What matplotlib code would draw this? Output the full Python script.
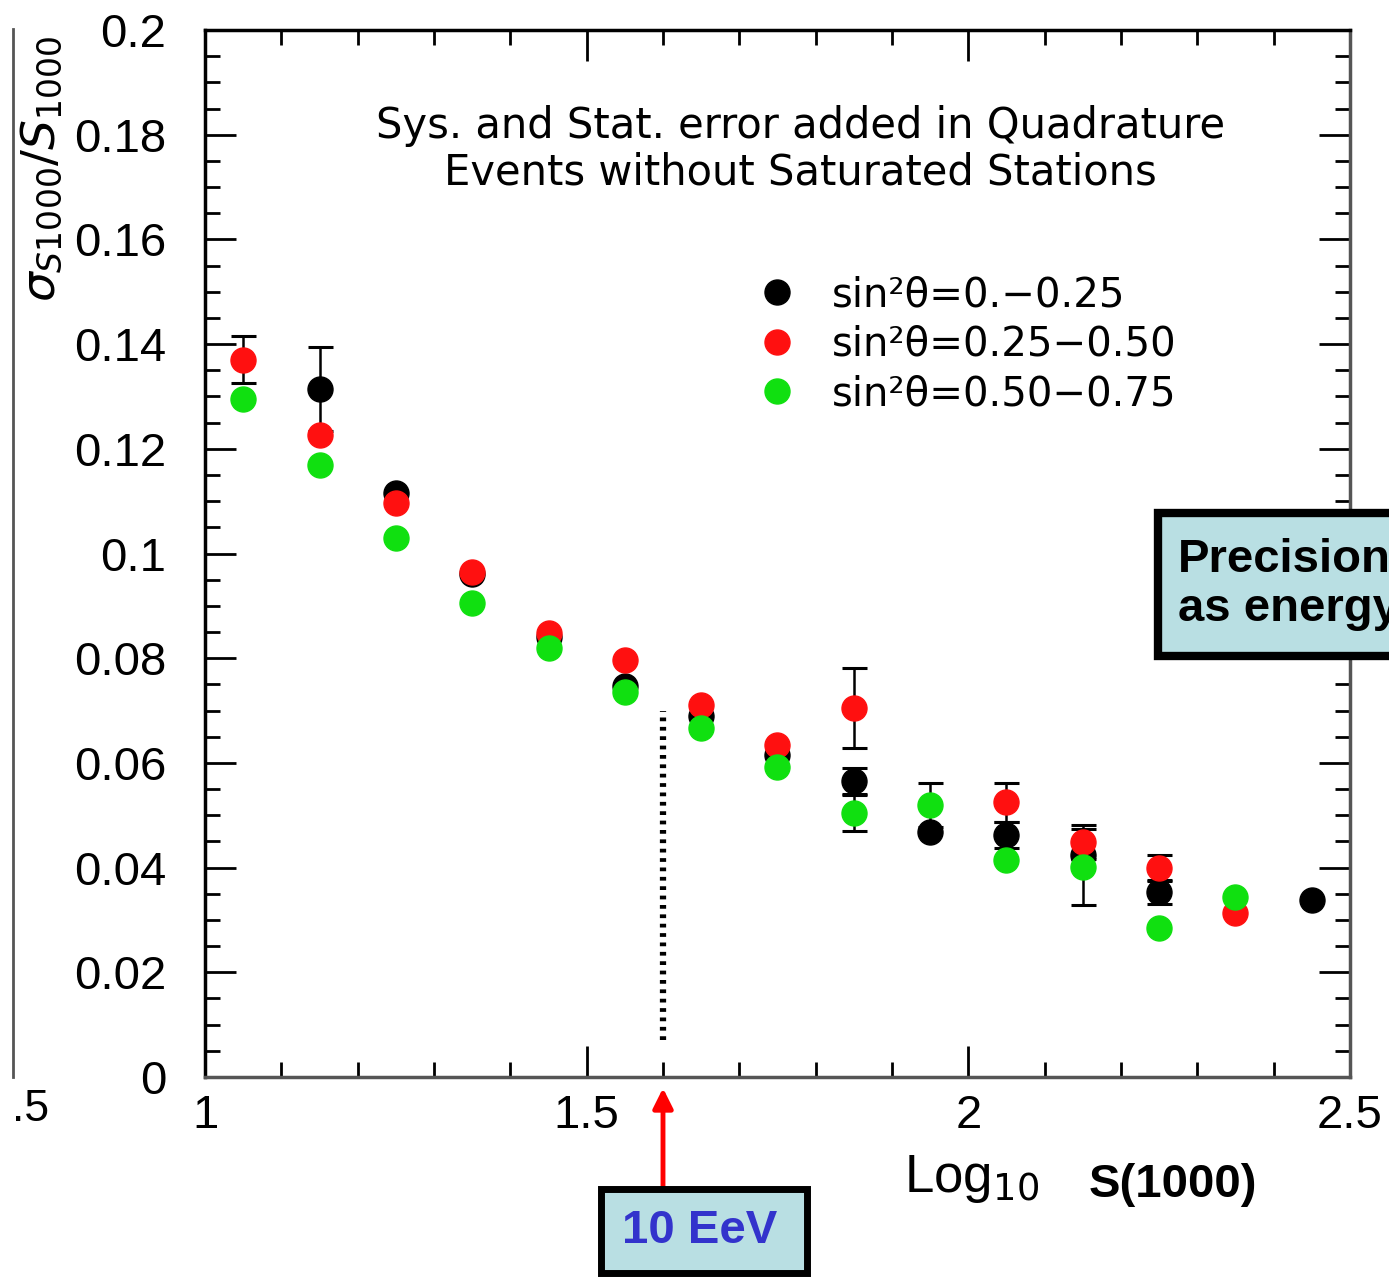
import numpy as np
import matplotlib.pyplot as plt
from matplotlib.patches import Rectangle
from matplotlib.lines import Line2D
from matplotlib.ticker import MultipleLocator

# sigma(S1000)/S1000 vs log10 S(1000), three zenith bins
x_black = [1.15, 1.25, 1.35, 1.45, 1.55, 1.65, 1.75, 1.85, 1.95, 2.05, 2.15, 2.25, 2.45]
y_black = [0.1314, 0.1116, 0.0961, 0.0840, 0.0747, 0.0690, 0.0615, 0.0565, 0.0468, 0.0462, 0.0425, 0.0353, 0.0338]
e_black = [0.0080, 0, 0, 0, 0, 0, 0, 0.0025, 0, 0.0025, 0, 0.0023, 0]

x_red = [1.05, 1.15, 1.25, 1.35, 1.45, 1.55, 1.65, 1.75, 1.85, 2.05, 2.15, 2.25, 2.35]
y_red = [0.1370, 0.1226, 0.1096, 0.0965, 0.0848, 0.0797, 0.0711, 0.0634, 0.0705, 0.0525, 0.0449, 0.0399, 0.0313]
e_red = [0.0045, 0, 0, 0, 0, 0, 0, 0, 0.0077, 0.0037, 0.0032, 0.0025, 0]

x_green = [1.05, 1.15, 1.25, 1.35, 1.45, 1.55, 1.65, 1.75, 1.85, 1.95, 2.05, 2.15, 2.25, 2.35]
y_green = [0.1295, 0.1169, 0.1030, 0.0905, 0.0820, 0.0735, 0.0667, 0.0592, 0.0504, 0.0520, 0.0414, 0.0401, 0.0285, 0.0344]
e_green = [0, 0, 0, 0, 0, 0, 0, 0, 0.0035, 0.0042, 0, 0.0072, 0, 0]

labels = ['sin²θ=0.−0.25', 'sin²θ=0.25−0.50', 'sin²θ=0.50−0.75']
colors = ['black', '#ff1010', '#10e010']

x_energy = 1.6     # 10 EeV marker
y_energy_top = 0.070

fig = plt.figure(figsize=(13.89, 12.77), dpi=100)
ax = fig.add_axes([0.1476, 0.1566, 0.8243, 0.8199])

series = [(x_black, y_black, e_black), (x_red, y_red, e_red), (x_green, y_green, e_green)]
for (xs, ys, es), c, lab in zip(series, colors, labels):
    xs, ys, es = np.array(xs), np.array(ys), np.array(es)
    m = es > 0
    ax.errorbar(xs[m], ys[m], yerr=es[m], fmt='none', ecolor='black',
                elinewidth=1.8, capsize=9, capthick=2.2, zorder=2)
    ax.plot(xs, ys, 'o', color=c, mec=c, ms=18, label=lab, zorder=3)

ax.plot([x_energy, x_energy], [0.007, y_energy_top], color='black', lw=4.5,
        ls=(0, (0.6, 0.9)), zorder=1)

ax.set_xlim(1, 2.5)
ax.set_ylim(0, 0.2)
ax.xaxis.set_minor_locator(MultipleLocator(0.1))
ax.yaxis.set_minor_locator(MultipleLocator(0.005))
ax.set_xticks([1, 1.5, 2, 2.5])
ax.set_xticklabels(['1', '1.5', '2', '2.5'])
ax.set_yticks(np.arange(0, 0.201, 0.02))
ax.set_yticklabels(['0', '0.02', '0.04', '0.06', '0.08', '0.1', '0.12', '0.14',
                    '0.16', '0.18', '0.2'])
ax.tick_params(which='both', direction='in', top=True, right=True, width=2,
               labelsize=34, labelfontfamily='Liberation Sans')
ax.tick_params(which='major', length=22)
ax.tick_params(which='minor', length=11)
ax.tick_params(axis='y', pad=28)
ax.tick_params(axis='x', pad=12)
for s in ax.spines.values():
    s.set_linewidth(2.5)
ax.spines['bottom'].set_color('#555555')
ax.spines['right'].set_color('#555555')

ax.text(0.52, 0.886, 'Sys. and Stat. error added in Quadrature\nEvents without Saturated Stations',
        transform=ax.transAxes, ha='center', va='center', fontsize=30,
        linespacing=1.15, family='DejaVu Sans')

ax.legend(loc='upper left', bbox_to_anchor=(0.482, 0.766), frameon=False,
          handlelength=1.0, handletextpad=0.85, borderpad=0,
          borderaxespad=0, labelspacing=0.24, markerscale=1.0,
          prop={'family': 'DejaVu Sans', 'size': 29})

# y axis label
fig.text(0.030, 0.868, r'$\sigma_{S1000}/S_{1000}$', rotation=90, ha='center',
         va='center', fontsize=34)

# x axis label
fig.text(0.651, 0.077, r'Log$_{10}$', fontsize=38, family='Liberation Sans',
         ha='left', va='center')
fig.text(0.784, 0.072, 'S(1000)', fontsize=34, fontweight='bold',
         family='Liberation Sans', ha='left', va='center')

# remains of neighbouring panel on the left
fig.add_artist(Line2D([0.009, 0.009], [0.157, 0.977], transform=fig.transFigure,
                      color='#555555', lw=2))
fig.text(0.022, 0.131, '.5', fontsize=32, family='Liberation Sans', ha='center',
         va='center')

# 10 EeV callout
fig.add_artist(Rectangle((0.433, 0.003), 0.148, 0.066, transform=fig.transFigure,
                         facecolor='#b9dfe3', edgecolor='black', lw=5))
fig.text(0.504, 0.036, '10 EeV', fontsize=34, fontweight='bold', color='#3333cc',
         family='Liberation Sans', ha='center', va='center')
ax.annotate('', xy=(x_energy, 0.0), xycoords=('data', 'axes fraction'),
            xytext=(x_energy, -0.108), textcoords=('data', 'axes fraction'),
            arrowprops=dict(arrowstyle='-|>', color='red', lw=3.5,
                            mutation_scale=30, shrinkA=0, shrinkB=8))

# precision callout, runs off the right edge
fig.add_artist(Rectangle((0.834, 0.486), 0.2, 0.112, transform=fig.transFigure,
                         facecolor='#b9dfe3', edgecolor='black', lw=6, zorder=5))
fig.text(0.848, 0.542, 'Precision\nas energy', fontsize=34, fontweight='bold',
         family='Liberation Sans', ha='left', va='center', linespacing=1.15,
         zorder=6)

fig.savefig('out.png', dpi=100)
